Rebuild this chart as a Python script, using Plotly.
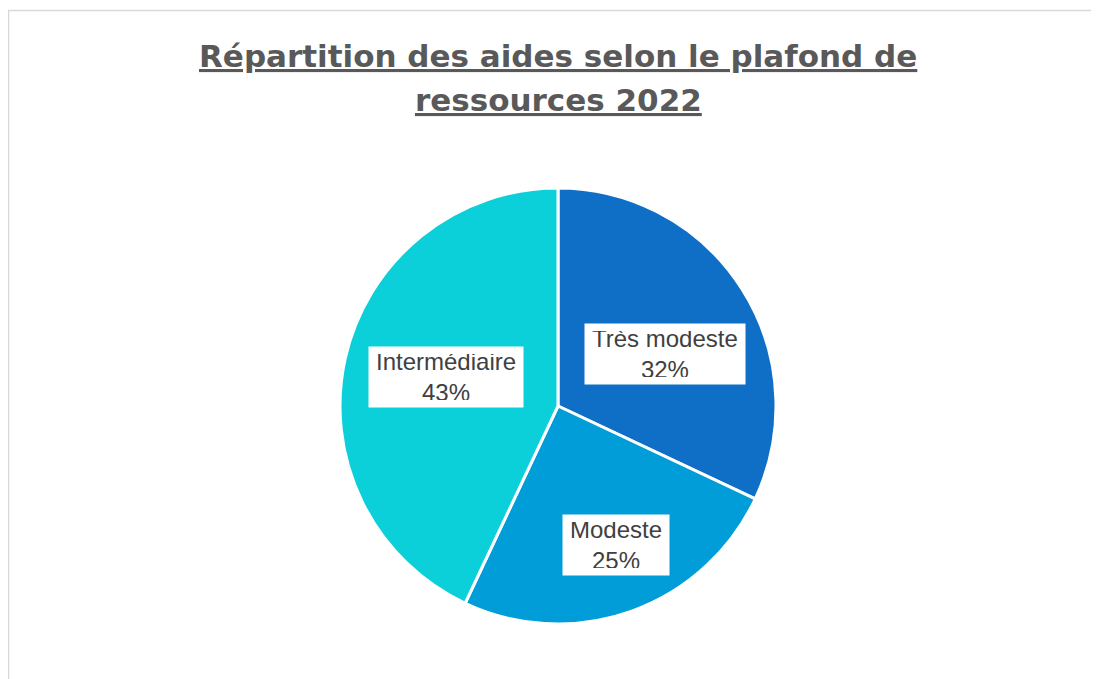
import math
import plotly.graph_objects as go

# Données
categories = ['Très modeste', 'Modeste', 'Intermédiaire']
parts = [32, 25, 43]
couleurs = ['#0F6FC6', '#009DD9', '#0BD0D9']
titre = ['Répartition des aides selon le plafond de', 'ressources 2022']

# la page ajoute une marge de 8 px autour de la figure
OX, OY = 8, 8
W, H = 1099, 679
# centre et rayon du camembert (pixels de la page)
cx, cy, R = 558, 406, 218
# position des étiquettes : fraction du rayon et décalage angulaire (degrés)
label_r = [0.545, 0.69, 0.53]
label_dt = [6.5, -3, 2]


def px(x):
    return (x - OX) / W


def py(y):
    return 1 - (y - OY) / H


fig = go.Figure()

fig.add_trace(
    go.Pie(
        labels=categories,
        values=parts,
        sort=False,
        direction='clockwise',
        rotation=0,
        marker=dict(colors=couleurs, line=dict(color='white', width=3)),
        textinfo='none',
        hoverinfo='label+percent',
        showlegend=False,
        domain=dict(x=[px(cx - 300), px(cx + 300)],
                    y=[py(cy + R), py(cy - R)]),
    )
)

# Étiquettes dans des cadres blancs, placées au milieu de chaque part
total = sum(parts)
annotations = []
cumul = 0
for cat, val, f, dt in zip(categories, parts, label_r, label_dt):
    mid = (cumul + val / 2) / total * 2 * math.pi + math.radians(dt)
    cumul += val
    annotations.append(dict(
        x=px(cx + f * R * math.sin(mid)), y=py(cy - f * R * math.cos(mid)),
        xref='paper', yref='paper',
        xanchor='center', yanchor='middle',
        text=f'{cat}<br>{round(val / total * 100)}%',
        showarrow=False,
        font=dict(family='Liberation Sans, Arial', size=24, color='#404040'),
        bgcolor='white',
        height=46,
        borderpad=7,
    ))

# Titre souligné, sur deux lignes
for ligne, yl in zip(titre, [56, 100]):
    annotations.append(dict(
        x=px(558), y=py(yl), xref='paper', yref='paper',
        text=f'<b><u>{ligne}</u></b>',
        showarrow=False,
        xanchor='center', yanchor='middle',
        font=dict(family='DejaVu Sans', size=31, color='#595959'),
    ))

fig.update_layout(
    width=W,
    height=H,
    margin=dict(l=0, r=0, t=0, b=0),
    paper_bgcolor='white',
    annotations=annotations,
    shapes=[dict(
        type='rect', xref='paper', yref='paper',
        x0=px(8.5), x1=1.02, y0=-0.02, y1=py(10.5),
        line=dict(color='#D9D9D9', width=1.5),
    )],
)

fig.write_html('out.html')
